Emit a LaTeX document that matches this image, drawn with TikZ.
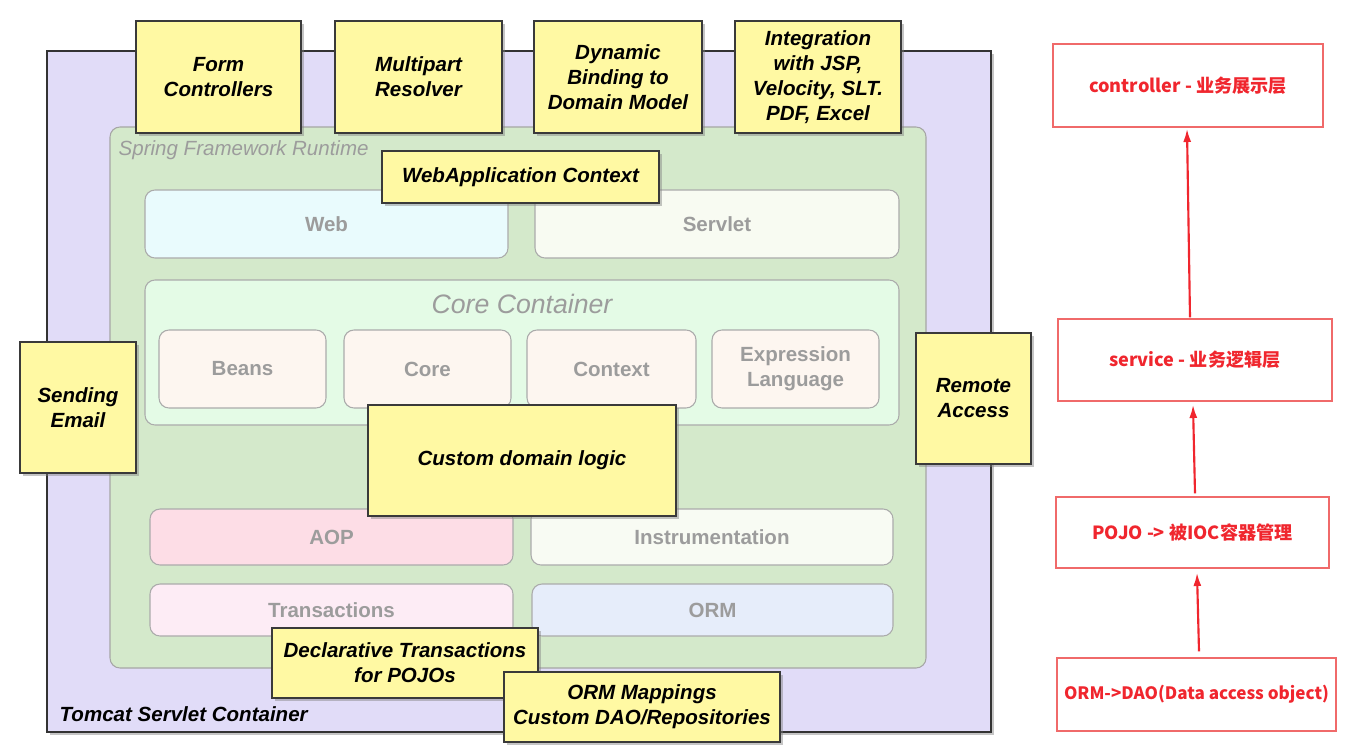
\documentclass[tikz,border=0pt]{standalone}
\usepackage{fontspec}
\newfontfamily\hv{Liberation Sans}
\newfontfamily\cjk{Noto Sans CJK SC}
\usetikzlibrary{shadows,arrows.meta}
\definecolor{lav}{HTML}{E1DCF8}
\definecolor{rtgreen}{HTML}{D4E9CB}
\definecolor{modborder}{HTML}{ABABAB}
\definecolor{webc}{HTML}{E9FBFD}
\definecolor{servc}{HTML}{F8FBF2}
\definecolor{corec}{HTML}{E4FBE6}
\definecolor{cmodc}{HTML}{FDF6F0}
\definecolor{aopc}{HTML}{FDDDE6}
\definecolor{instc}{HTML}{F8FBF3}
\definecolor{transc}{HTML}{FDECF5}
\definecolor{ormc}{HTML}{E6EDFA}
\definecolor{yel}{HTML}{FFF9A3}
\definecolor{ybord}{HTML}{3A3A3A}
\definecolor{graytxt}{HTML}{9C9C9C}
\definecolor{redtxt}{HTML}{F0262E}
\definecolor{redbord}{HTML}{F06A6A}
\tikzset{
  area/.style args={(#1,#2) (#3,#4)}{anchor=center, inner sep=0pt,
    minimum width={(#3-#1)*0.75pt}, minimum height={(#4-#2)*0.75pt},
    at={({(#1+#3)/2},{(#2+#4)/2})}},
  ybox/.style={area={#1}, draw=ybord, line width=1.1pt, fill=yel,
    drop shadow={shadow xshift=2pt, shadow yshift=-2pt, opacity=0.45},
    font=\hv\bfseries\itshape\fontsize{15.4}{18.75}\selectfont, align=center, text=black},
  modbox/.style 2 args={area={#1}, draw=modborder, line width=0.8pt, fill=#2,
    rounded corners=7.5pt, font=\hv\bfseries\fontsize{15.4}{18.75}\selectfont, align=center, text=graytxt},
  rbox/.style={area={#1}, draw=redbord, line width=1pt,
    font=\cjk\bfseries\fontsize{13.6}{16}\selectfont, text=redtxt},
  rarrow/.style={draw=redtxt, line width=1.6pt, -{Latex[length=10pt,width=6pt]}},
}
\begin{document}
\begin{tikzpicture}[x=0.75pt,y=-0.75pt]
\useasboundingbox[fill=white] (0,0) rectangle (1356,756);
% Tomcat container
\node[area={(47,51) (991,732)}, draw=black!80, line width=1.2pt, fill=lav,
  drop shadow={shadow xshift=2.5pt, shadow yshift=-2.5pt, opacity=0.45}] (tomcat) {};
\node[anchor=west, font=\hv\bfseries\itshape\fontsize{15.4}{18.75}\selectfont] (tomcatlbl) at (55,714) {Tomcat Servlet Container};
% Spring runtime
\node[area={(110,127) (926,668)}, draw=black!35, line width=0.8pt, fill=rtgreen, rounded corners=7.5pt] (runtime) {};
\node[anchor=west, font=\hv\itshape\fontsize{15.4}{18.75}\selectfont, text=graytxt] (rtlbl) at (114,150) {Spring Framework Runtime};
% modules
\node[modbox={(145,190) (508,258)}{webc}] (web) {Web};
\node[modbox={(535,190) (899,258)}{servc}] (servlet) {Servlet};
\node[area={(145,280) (899,425)}, draw=modborder, line width=0.8pt, fill=corec, rounded corners=7.5pt] (corecont) {};
\node[font=\hv\itshape\fontsize{20}{24}\selectfont, text=graytxt] (corelbl) at (522,304) {Core Container};
\node[modbox={(159,330) (326,408)}{cmodc}] (beans) {Beans};
\node[modbox={(344,330) (511,408)}{cmodc}] (core) {Core};
\node[modbox={(527,330) (696,408)}{cmodc}] (context) {Context};
\node[modbox={(712,330) (879,408)}{cmodc}] (el) {Expression\\Language};
\node[modbox={(150,509) (513,565)}{aopc}] (aop) {AOP};
\node[modbox={(531,509) (893,565)}{instc}] (instr) {Instrumentation};
\node[modbox={(150,584) (513,636)}{transc}] (trans) {Transactions};
\node[modbox={(532,584) (893,636)}{ormc}] (orm) {ORM};
% yellow boxes
\node[ybox={(136,21) (301,133)}] (form) {Form\\Controllers};
\node[ybox={(335,21) (502,133)}] (multi) {Multipart\\Resolver};
\node[ybox={(534,21) (702,133)}] (dyn) {Dynamic\\Binding to\\Domain Model};
\node[ybox={(735,21) (901,133)}] (integ) {Integration\\with JSP,\\Velocity, SLT.\\PDF, Excel};
\node[ybox={(382,151) (659,203)}] (webctx) {WebApplication Context};
\node[ybox={(20,342) (136,473)}] (mail) {Sending\\Email};
\node[ybox={(916,333) (1031,464)}] (remote) {Remote\\Access};
\node[ybox={(368,405) (676,516)}] (domain) {Custom domain logic};
\node[ybox={(272,628) (538,698)}] (decl) {Declarative Transactions\\for POJOs};
\node[ybox={(504,672) (780,742)}] (ormmap) {ORM Mappings\\Custom DAO/Repositories};
% right side layers
\node[rbox={(1053,44) (1323,127)}] (ctrl) {controller - 业务展示层};
\node[rbox={(1058,319) (1332,401)}] (svc) {service - 业务逻辑层};
\node[rbox={(1056,497) (1329,568)}] (pojo) {POJO -> 被IOC容器管理};
\node[rbox={(1057,658) (1336,731)}, font=\cjk\bfseries\fontsize{12.8}{15}\selectfont] (dao) {ORM->DAO(Data access object)};
\draw[rarrow] ([shift={(-5,-1)}]svc.north) -- ([shift={(-1,1)}]ctrl.south);
\draw[rarrow] ([shift={(2.5,-3)}]pojo.north) -- ([shift={(-2,3)}]svc.south);
\draw[rarrow] ([shift={(2.5,-6)}]dao.north) -- ([shift={(4.5,4)}]pojo.south);
\end{tikzpicture}
\end{document}
